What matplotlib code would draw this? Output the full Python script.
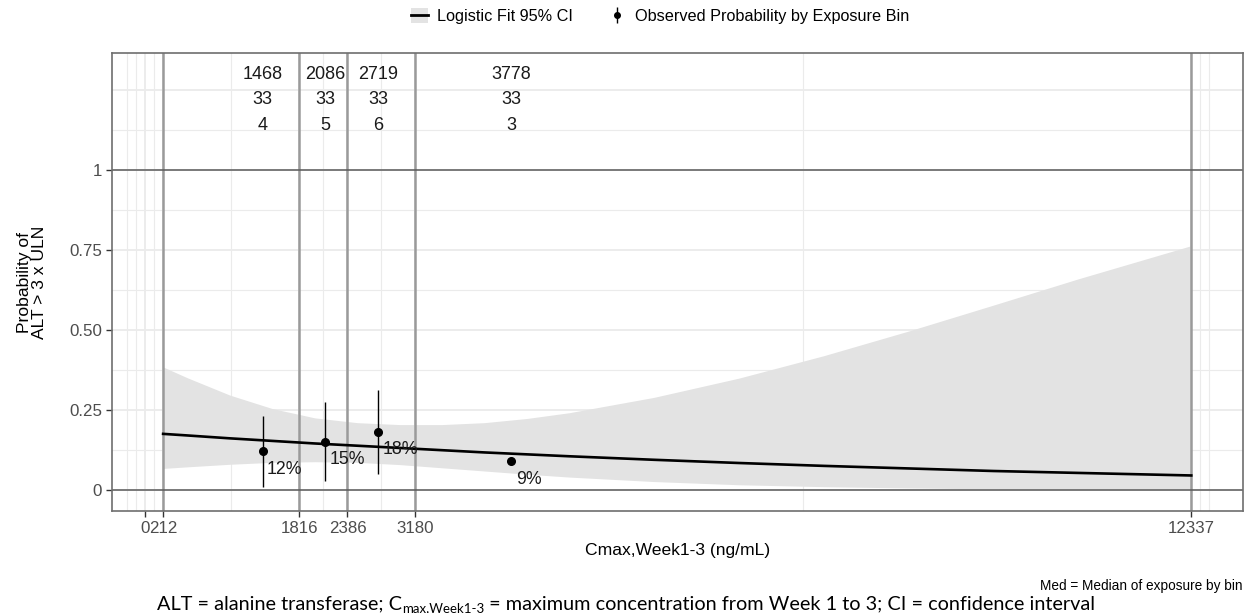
import matplotlib
matplotlib.use("Agg")
import matplotlib.pyplot as plt
import numpy as np
from matplotlib.lines import Line2D
from matplotlib.patches import Patch

# exposure bins: edges, where each bin's summary sits, and its counts
BIN_EDGES = [212, 1816, 2386, 3180, 12337]
X_BREAKS = [0, 212, 1816, 2386, 3180, 12337]
X_MINOR = [-212, -106, 106, 1014, 2101, 2783, 7758.5, 12443, 12549]
BIN_X = [1385, 2125, 2745, 4320]
BIN_MEDIAN = ["1468", "2086", "2719", "3778"]
BIN_N = ["33", "33", "33", "33"]
BIN_EVENTS = ["4", "5", "6", "3"]

# observed proportions with Wald intervals (last bin has no interval drawn)
OBS_P = [0.121, 0.152, 0.182, 0.091]
OBS_LO = [0.011, 0.029, 0.050, np.nan]
OBS_HI = [0.233, 0.274, 0.313, np.nan]
OBS_LABEL = ["12%", "15%", "18%", "9%"]

# logistic fit and its 95% band
FIT_X = [212, 500, 1000, 1500, 2000, 2500, 3000, 3500, 4000, 4500, 5000,
         6000, 7000, 8000, 9000, 10000, 11000, 12337]
FIT_P = [0.176, 0.171, 0.162, 0.154, 0.146, 0.139, 0.132, 0.125, 0.118, 0.112, 0.106,
         0.095, 0.085, 0.076, 0.068, 0.060, 0.054, 0.046]
FIT_LO = [0.068, 0.073, 0.081, 0.087, 0.089, 0.087, 0.080, 0.070, 0.060, 0.050, 0.041,
          0.027, 0.017, 0.011, 0.007, 0.004, 0.0025, 0.0012]
FIT_HI = [0.385, 0.351, 0.297, 0.255, 0.226, 0.211, 0.205, 0.205, 0.211, 0.224, 0.242,
          0.290, 0.350, 0.420, 0.497, 0.578, 0.660, 0.764]

BAND = "#E3E3E3"
GRID = "#EBEBEB"
TXT = "#1a1a1a"

plt.rcParams["font.family"] = ["Liberation Sans", "DejaVu Sans"]

W, H = 1253, 613
fig = plt.figure(figsize=(W / 100, H / 100), dpi=100)
ax = fig.add_axes([111.7 / W, 1 - 511 / H, (1242.7 - 111.7) / W, (511 - 53.3) / H])

span = 12337 - 212
ax.set_xlim(212 - 0.05 * span, 12337 + 0.05 * span)
ax.set_ylim(-0.065, 1.3 * 1.05)

# grid
for xv in X_MINOR:
    ax.axvline(xv, color=GRID, lw=0.8, zorder=0)
for xv in X_BREAKS:
    ax.axvline(xv, color=GRID, lw=1.3, zorder=0)
for yv in np.arange(-0.125, 1.3, 0.125):
    major = abs(yv * 4 - round(yv * 4)) < 1e-9
    ax.axhline(yv, color=GRID, lw=1.3 if major else 0.8, zorder=0)

ax.fill_between(FIT_X, FIT_LO, FIT_HI, color=BAND, lw=0, zorder=1)

for xv in BIN_EDGES:
    ax.axvline(xv, color="#9A9A9A", lw=1.8, zorder=2)
for yv in [0, 1]:
    ax.axhline(yv, color="#5A5A5A", lw=1.1, zorder=2)

ax.plot(FIT_X, FIT_P, color="black", lw=1.9, zorder=3)

ax.vlines(BIN_X[:3], OBS_LO[:3], OBS_HI[:3], color="black", lw=1.0, zorder=4)
ax.plot(BIN_X, OBS_P, "o", color="black", ms=5.5, zorder=5)
for x, p, lab in zip(BIN_X, OBS_P, OBS_LABEL):
    ax.annotate(lab, (x, p), xytext=(3.2, -13), textcoords="offset points",
                ha="left", va="center", fontsize=12.8, color=TXT, zorder=6)

for x, med, n, ev in zip(BIN_X, BIN_MEDIAN, BIN_N, BIN_EVENTS):
    ax.text(x, 1.30, med, ha="center", va="center", fontsize=13, color=TXT)
    ax.text(x, 1.22, n, ha="center", va="center", fontsize=13, color=TXT)
    ax.text(x, 1.14, ev, ha="center", va="center", fontsize=13, color=TXT)

ax.set_xticks(X_BREAKS)
ax.set_xticklabels([str(v) for v in X_BREAKS])
ax.set_yticks([0, 0.25, 0.5, 0.75, 1])
ax.set_yticklabels(["0", "0.25", "0.50", "0.75", "1"])
ax.tick_params(axis="both", colors="#333333", labelcolor="#4D4D4D",
               labelsize=12.2, length=4, width=1.0, pad=3)
for s in ax.spines.values():
    s.set_color("#6E6E6E")
    s.set_linewidth(1.2)

ax.set_xlabel("Cmax,Week1-3 (ng/mL)", fontsize=12.6, labelpad=5)
ax.set_ylabel("Probability of\nALT > 3 x ULN", fontsize=12.6, labelpad=16,
              linespacing=1.0)

# legend across the top
handles = [
    (Patch(facecolor=BAND, edgecolor="none"), Line2D([], [], color="black", lw=2)),
    (Line2D([], [], color="black", marker="|", ms=11, mew=1, ls="none"),
     Line2D([], [], color="black", marker="o", ms=4, ls="none")),
]
fig.legend(handles, ["Logistic Fit 95% CI", "Observed Probability by Exposure Bin"],
           loc="center", bbox_to_anchor=(0.527, 1 - 16 / H), ncol=2, frameon=False,
           fontsize=11.7, handlelength=1.0, handleheight=1.0, handletextpad=0.6,
           columnspacing=2.2)

fig.text(1242.7 / W, 1 - 586 / H, "Med = Median of exposure by bin", ha="right",
         va="center", fontsize=9.8, color="black")

# footnote with a subscripted Cmax
fig.canvas.draw()
renderer = fig.canvas.get_renderer()
fy = 1 - 609 / H
parts = [("ALT = alanine transferase; C", 0, 14.3),
         ("max,Week1-3", -3.5, 9.5),
         (" = maximum concentration from Week 1 to 3; CI = confidence interval", 0, 14.3)]
cx = 157
for txt, dy, size in parts:
    t = fig.text(cx / W, fy + dy / H, txt, family="Lato", fontsize=size,
                 va="baseline", color="black")
    cx = t.get_window_extent(renderer).x1

fig.savefig("out.png", dpi=100)
